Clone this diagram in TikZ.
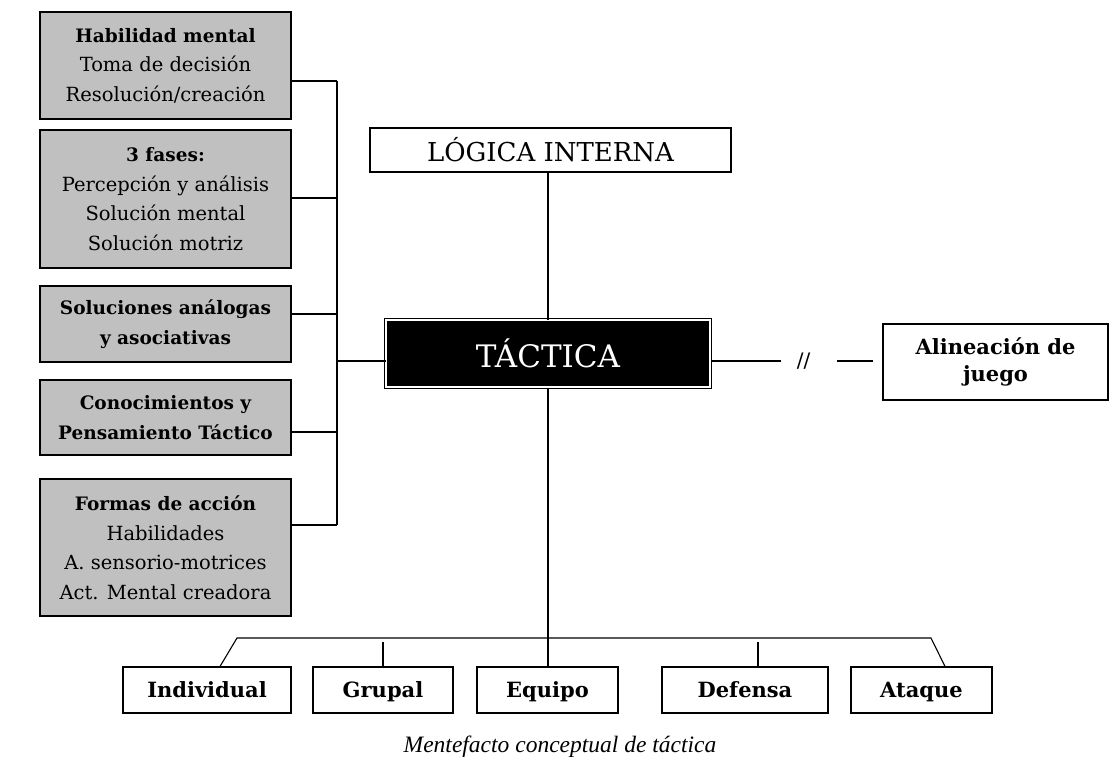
\documentclass[tikz,border=0pt]{standalone}
\usepackage{fontspec}
\setmainfont{DejaVu Serif}
\newfontfamily\capfont{Liberation Serif}
\newfontfamily\slfont{DejaVu Sans}
\usepackage{tikz}
\usetikzlibrary{calc}
\definecolor{grisfondo}{RGB}{192,192,192}
\newcommand\tit[1]{{\fontsize{18.5}{29.5}\selectfont\bfseries #1}}

\begin{document}
\begin{tikzpicture}[x=1pt, y=-1pt, line width=1.1pt,
  every node/.style={font=\fontsize{19.5}{29.5}\selectfont, align=center, inner sep=0pt},
  grisbox/.style={draw, fill=grisfondo, minimum width=251},
  caja/.style={draw, minimum height=46, text height=15.5, text depth=1.5, font=\fontsize{21}{25}\selectfont\bfseries}]
\useasboundingbox (0,0) rectangle (1110,756);

% izquierda
\node[grisbox, minimum height=107] (hab) at (165.5,65.5) {\tit{Habilidad mental}\\Toma de decisión\\Resolución/creación};
\node[grisbox, minimum height=138] (fas) at (165.5,199) {\tit{3 fases:}\\Percepción y análisis\\Solución mental\\Solución motriz};
\node[grisbox, minimum height=76] (sol) at (165.5,324) {\tit{Soluciones análogas}\\\tit{y asociativas}};
\node[grisbox, minimum height=75] (con) at (165.5,417.5) {\tit{Conocimientos y}\\\tit{Pensamiento Táctico}};
\node[grisbox, minimum height=137] (for) at (165.5,547.5) {\tit{Formas de acción}\\Habilidades\\A. sensorio-motrices\\Act. Mental creadora};

\node[draw, double, double distance=2.5pt, line width=1pt, fill=black, text=white,
  minimum width=324, minimum height=67, font=\fontsize{31}{36}\selectfont] (tac) at (548,353.5) {TÁCTICA};
\node[draw, minimum width=361, minimum height=44, font=\fontsize{26}{30}\selectfont] (log) at (550.5,150) {LÓGICA INTERNA};
\node[draw, minimum width=225, minimum height=76, font=\fontsize{21}{27}\selectfont\bfseries] (ali) at (995.5,362) {Alineación de\\juego};
\node[font=\slfont\fontsize{20}{22}\selectfont] (brk) at (803.5,361) {//};

\coordinate (k0) at (337,361);
\coordinate (k1) at (337,81);
\coordinate (k2) at (337,198);
\coordinate (k3) at (337,314);
\coordinate (k4) at (337,432);
\coordinate (k5) at (337,525);
\draw (hab.east |- k1) -- (k1);
\draw (fas.east |- k2) -- (k2);
\draw (sol.east |- k3) -- (k3);
\draw (con.east |- k4) -- (k4);
\draw (for.east |- k5) -- (k5);
\draw (k1) -- (k5);
\draw (k0) -- (tac.west |- k0);

\draw (tac.north) -- (tac.north |- log.south);
\draw[shorten >=15] (tac.east |- brk) -- (brk.west);
\draw[shorten <=26, shorten >=9] (brk.east) -- (ali.west |- brk);

% abajo
\node[caja, minimum width=168] (ind) at (207,690) {Individual};
\node[caja, minimum width=140] (gru) at (383,690) {Grupal};
\node[caja, minimum width=141] (equ) at (547.5,690) {Equipo};
\node[caja, minimum width=166] (def) at (745,690) {Defensa};
\node[caja, minimum width=141] (ata) at (921.5,690) {Ataque};

\coordinate (bl) at (237,638);
\coordinate (br) at (931,638);
\draw (tac.south) -- (tac.south |- equ.north);
\draw ($(ind.north)+(13,0)$) -- (bl) -- (br) -- ($(ata.north)+(23.5,0)$);
\draw (gru.north) -- ++(0,-24);
\draw ($(def.north)+(13,0)$) -- ++(0,-24);

\node[anchor=base, font=\capfont\itshape\fontsize{23.5}{26}\selectfont] (cap) at (560,752) {Mentefacto conceptual de táctica};
\end{tikzpicture}
\end{document}
